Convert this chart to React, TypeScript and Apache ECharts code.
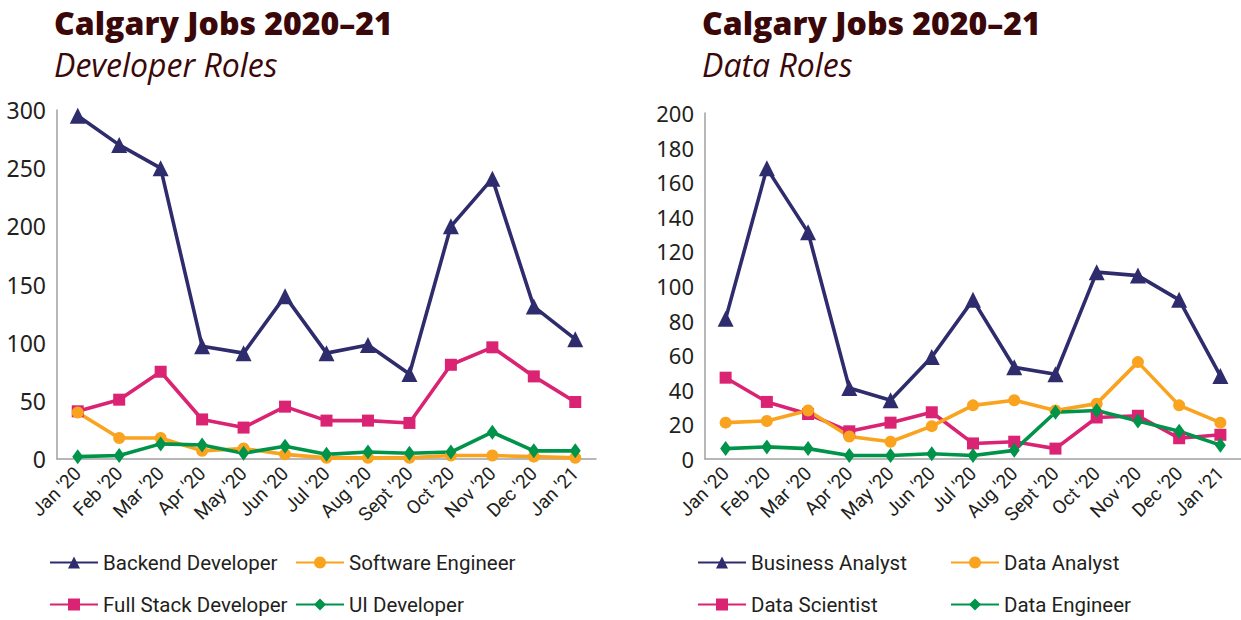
import React, { useEffect, useRef } from "react";
import * as echarts from "echarts";

const months = ["Jan '20", "Feb '20", "Mar '20", "Apr '20", "May '20", "Jun '20", "Jul '20", "Aug '20", "Sept '20", "Oct '20", "Nov '20", "Dec '20", "Jan '21"];

const backendDeveloper = [295, 270, 250, 97, 91, 140, 91, 98, 73, 200, 241, 131, 103];
const softwareEngineer = [40, 18, 18, 7, 9, 4, 1, 1, 1, 3, 3, 2, 1];
const fullStackDeveloper = [41, 51, 75, 34, 27, 45, 33, 33, 31, 81, 96, 71, 49];
const uiDeveloper = [2, 3, 13, 12, 5, 11, 4, 6, 5, 6, 23, 7, 7];

const businessAnalyst = [81, 168, 131, 41, 34, 59, 92, 53, 49, 108, 106, 92, 48];
const dataAnalyst = [21, 22, 28, 13, 10, 19, 31, 34, 28, 32, 56, 31, 21];
const dataScientist = [47, 33, 26, 16, 21, 27, 9, 10, 6, 24, 25, 12, 14];
const dataEngineer = [6, 7, 6, 2, 2, 3, 2, 5, 27, 28, 22, 16, 8];

const NAVY = "#2e2c6c";
const ORANGE = "#f9a31f";
const PINK = "#da2372";
const GREEN = "#00934a";
const TITLE = "#3a0808";
const TEXT = "#231f20";

const lineSeries = (name: string, data: number[], color: string, symbol: string, size: number | number[], idx: number) => ({
  type: "line",
  name,
  data,
  xAxisIndex: idx,
  yAxisIndex: idx,
  symbol,
  symbolSize: size,
  showAllSymbol: true,
  lineStyle: { color, width: 3.6 },
  itemStyle: { color, borderWidth: 0 },
  z: 3,
});

export default function App() {
  const ref = useRef<HTMLDivElement>(null);
  useEffect(() => {
    if (!ref.current) return;
    const chart = echarts.init(ref.current, null, { renderer: "svg" });
    const xAxis = (gi: number) => ({
      type: "category",
      gridIndex: gi,
      data: months,
      boundaryGap: true,
      axisLine: { lineStyle: { color: "#a0a0a0", width: 1.5 } },
      axisTick: { show: false },
      axisLabel: { rotate: 45, color: TEXT, fontSize: 19, fontFamily: "Roboto", margin: 11, interval: 0 },
    });
    const yAxis = (gi: number, max: number, interval: number, fs: number) => ({
      type: "value",
      gridIndex: gi,
      min: 0,
      max,
      interval,
      splitLine: { show: false },
      axisLine: { show: true, lineStyle: { color: "#a0a0a0", width: 1.5 } },
      axisTick: { show: false },
      axisLabel: { color: TEXT, fontSize: fs, fontFamily: "Noto Sans", margin: 11 },
    });
    const legendText = { color: TEXT, fontSize: 20.5, fontFamily: "Roboto" };
    const legend = (name: string, left: number, top: number) => ({
      data: [name],
      left,
      top,
      padding: 0,
      itemWidth: 48,
      itemHeight: 15,
      itemGap: 8,
      textStyle: legendText,
    });
    const titleStyle = { color: TITLE, fontSize: 32, fontWeight: 900, fontFamily: "Open Sans" };
    const subStyle = { color: TITLE, fontSize: 32, fontStyle: "italic", fontFamily: "Open Sans" };
    chart.setOption({
      animation: false,
      backgroundColor: "#ffffff",
      title: [
        { text: "Calgary Jobs 2020–21", subtext: "Developer Roles", left: 49, top: 1, itemGap: 10, textStyle: titleStyle, subtextStyle: subStyle },
        { text: "Calgary Jobs 2020–21", subtext: "Data Roles", left: 697, top: 1, itemGap: 10, textStyle: titleStyle, subtextStyle: subStyle },
      ],
      grid: [
        { left: 57, width: 539, top: 110, bottom: 161, containLabel: false },
        { left: 705, width: 536, top: 113, bottom: 161, containLabel: false },
      ],
      xAxis: [xAxis(0), xAxis(1)],
      yAxis: [yAxis(0, 300, 50, 23), yAxis(1, 200, 20, 22)],
      legend: [
        legend("Backend Developer", 49, 552),
        legend("Full Stack Developer", 49, 594),
        legend("Software Engineer", 295, 552),
        legend("UI Developer", 295, 594),
        legend("Business Analyst", 697, 552),
        legend("Data Scientist", 697, 594),
        legend("Data Analyst", 950, 552),
        legend("Data Engineer", 950, 594),
      ],
      series: [
        lineSeries("Backend Developer", backendDeveloper, NAVY, "triangle", 16, 0),
        lineSeries("Full Stack Developer", fullStackDeveloper, PINK, "rect", 12, 0),
        lineSeries("Software Engineer", softwareEngineer, ORANGE, "circle", 12, 0),
        lineSeries("UI Developer", uiDeveloper, GREEN, "diamond", [11, 15], 0),
        lineSeries("Business Analyst", businessAnalyst, NAVY, "triangle", 16, 1),
        lineSeries("Data Scientist", dataScientist, PINK, "rect", 12, 1),
        lineSeries("Data Analyst", dataAnalyst, ORANGE, "circle", 12, 1),
        lineSeries("Data Engineer", dataEngineer, GREEN, "diamond", [11, 15], 1),
      ],
    });
    return () => chart.dispose();
  }, []);
  return <div ref={ref} style={{ position: "fixed", left: 0, top: 0, width: 1241, height: 620 }} />;
}
